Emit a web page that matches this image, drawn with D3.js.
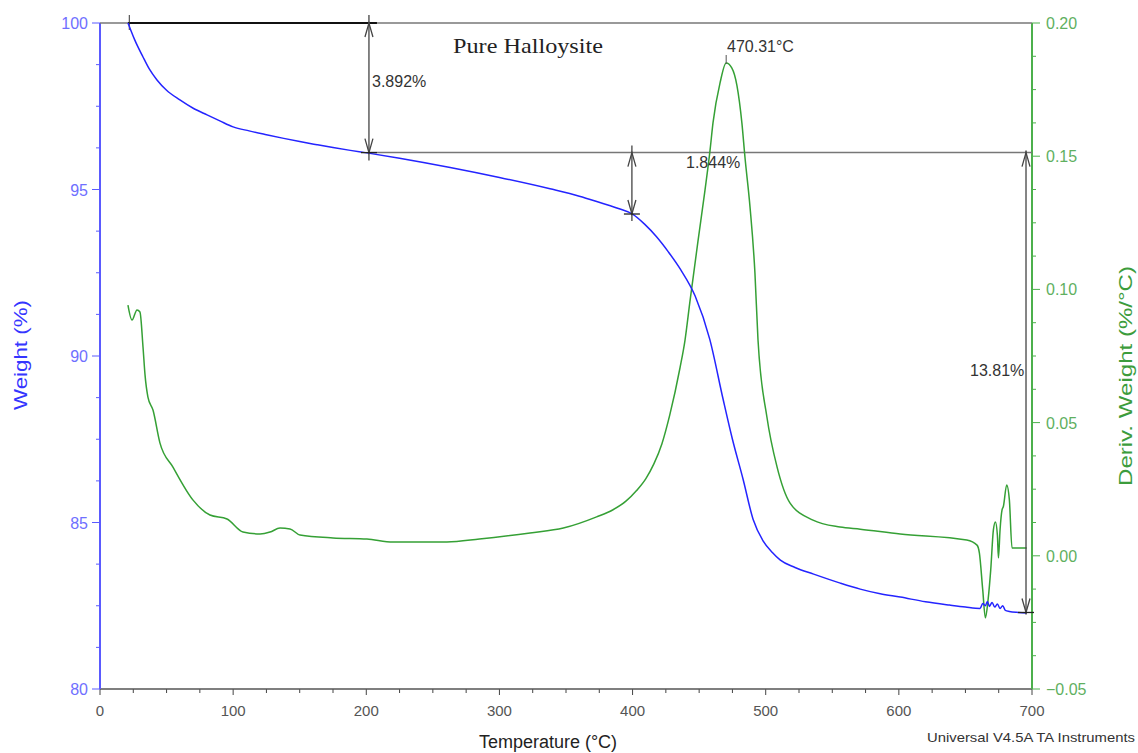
<!DOCTYPE html>
<html>
<head>
<meta charset="utf-8">
<script src="https://cdn.jsdelivr.net/npm/d3@7"></script>
<style>
  body { margin: 0; background: #fff; }
  text { font-family: "Liberation Sans", Arial, sans-serif; }
</style>
</head>
<body>
<div id="chart"></div>
<script>
// weight curve (°C, %)
const tempW = [21, 22.5, 26, 32.3, 37, 42.8, 50, 60, 70, 80.4, 90, 100, 112, 125, 138, 150, 163, 175, 188, 200.5,
  225, 263, 300, 338, 360, 376, 390, 400, 409, 418, 427, 436, 447, 458, 468, 475, 483, 490.5, 498, 505, 511, 522,
  536, 556, 571, 586, 601, 620, 638, 650, 661, 663, 665, 666.5, 668, 670, 672, 674, 676, 678, 680, 683,
  690, 696];
const weight = [100, 99.85, 99.5, 98.98, 98.62, 98.29, 97.98, 97.69, 97.44, 97.24, 97.06, 96.88, 96.76, 96.645,
  96.535, 96.44, 96.345, 96.26, 96.175, 96.10, 95.94, 95.66, 95.36, 95.02, 94.80, 94.60, 94.42, 94.26, 93.96,
  93.58, 93.12, 92.6, 91.8, 90.5, 88.7, 87.5, 86.3, 85.1, 84.45, 84.1, 83.87, 83.65, 83.45, 83.18, 83.0, 82.86,
  82.76, 82.62, 82.52, 82.46, 82.42, 82.57, 82.5, 82.63, 82.48, 82.6, 82.46, 82.55, 82.42, 82.5, 82.36,
  82.33, 82.3, 82.28];

// derivative curve (°C, %/°C)
const tempD = [21, 24, 27.8, 30, 32.3, 33.8, 36, 39.8, 45, 54.8, 69.9, 82.6, 95.4, 107.4, 120.2, 127.7,
  135.2, 142.7, 150.2, 175, 200.5, 220, 260.6, 285, 323, 348, 373, 385, 395, 403, 410, 416, 422, 428,
  435.6, 439.4, 443.1, 449.1, 454.4, 458.2, 460.4, 465.7, 470.3, 474.5, 478.4, 482.1, 484.4, 488.2, 491.9,
  494.2, 500.9, 508.5, 518.3, 535.5, 555.8, 571, 601, 651, 658.7, 660.5, 663, 665, 667, 669, 671, 672.5,
  674, 674.8, 676, 677.5, 678.5, 681, 683, 685, 696];
const deriv = [0.0941, 0.0885, 0.0923, 0.0915, 0.0784, 0.068, 0.0596, 0.0547, 0.0424, 0.0333, 0.0209, 0.0153,
  0.0138, 0.0089, 0.0082, 0.0089, 0.0104, 0.0101, 0.0078, 0.0067, 0.0063, 0.0052, 0.0052, 0.0063, 0.0086,
  0.0104, 0.0146, 0.0172, 0.0205, 0.0245, 0.029, 0.0345, 0.042, 0.053, 0.0705, 0.081, 0.0955, 0.118,
  0.1373, 0.1523, 0.1625, 0.1775, 0.1850, 0.1832, 0.1765, 0.1625, 0.1497, 0.1310, 0.1062, 0.0811, 0.0521,
  0.0334, 0.0198, 0.0134, 0.0108, 0.0100, 0.0082, 0.0059, 0.0040, 0.0010, -0.0128, -0.0233, -0.0166,
  -0.0053, 0.0097, 0.0127, 0.0078, -0.0008, 0.0097, 0.0172, 0.0185, 0.0266, 0.021, 0.0029, 0.0029];

const xTicks = [0, 100, 200, 300, 400, 500, 600, 700];
const yTicks = [80, 85, 90, 95, 100];
const y2Ticks = [-0.05, 0.00, 0.05, 0.10, 0.15, 0.20];

const W = 1138, H = 753;
const mLeft = 100, mRight = 1032, mTop = 23, mBottom = 689;

const svg = d3.select("#chart").append("svg").attr("width", W).attr("height", H);

const x = d3.scaleLinear().domain([0, 700]).range([mLeft, mRight]);
const y = d3.scaleLinear().domain([80, 100]).range([mBottom, mTop]);
const y2 = d3.scaleLinear().domain([-0.05, 0.20]).range([mBottom, mTop]);

const blueAxis = "#5a5aff", greenAxis = "#4cb04c";

// minor ticks
const xMinor = d3.range(0, 701, 25);
const yMinor = d3.range(80, 100.01, 1.25);
const y2Minor = d3.range(0, 21);

svg.append("g").selectAll("line").data(xMinor).join("line")
  .attr("x1", d => x(d)).attr("x2", d => x(d))
  .attr("y1", mBottom).attr("y2", d => mBottom + (d % 100 === 0 ? 6 : 4))
  .attr("stroke", "#444").attr("stroke-width", 1);
svg.append("g").selectAll("line").data(yMinor).join("line")
  .attr("y1", d => y(d)).attr("y2", d => y(d))
  .attr("x1", mLeft).attr("x2", d => mLeft - (d % 5 === 0 ? 8 : 4))
  .attr("stroke", blueAxis).attr("stroke-width", 1);
svg.append("g").selectAll("line").data(y2Minor).join("line")
  .attr("y1", i => y2(-0.05 + i * 0.0125)).attr("y2", i => y2(-0.05 + i * 0.0125))
  .attr("x1", mRight).attr("x2", i => mRight + (i % 4 === 0 ? 8 : 4))
  .attr("stroke", greenAxis).attr("stroke-width", 1);

// axis lines
svg.append("line").attr("x1", mLeft).attr("x2", mRight).attr("y1", mBottom).attr("y2", mBottom)
  .attr("stroke", "#555").attr("stroke-width", 1.5);
svg.append("line").attr("x1", mLeft).attr("x2", mLeft).attr("y1", mTop).attr("y2", mBottom)
  .attr("stroke", blueAxis).attr("stroke-width", 2);
svg.append("line").attr("x1", mRight).attr("x2", mRight).attr("y1", mTop).attr("y2", mBottom)
  .attr("stroke", greenAxis).attr("stroke-width", 2);

// tick labels
svg.append("g").selectAll("text").data(xTicks).join("text")
  .attr("x", d => x(d)).attr("y", 716).attr("text-anchor", "middle")
  .attr("font-size", 15).attr("fill", "#555").text(d => d);
svg.append("g").selectAll("text").data(yTicks).join("text")
  .attr("x", mLeft - 12).attr("y", d => y(d) + 6).attr("text-anchor", "end")
  .attr("font-size", 16).attr("fill", "#6f6fff").text(d => d);
svg.append("g").selectAll("text").data(y2Ticks).join("text")
  .attr("x", mRight + 14).attr("y", d => y2(d) + 6)
  .attr("font-size", 16).attr("fill", "#5fb05f").text(d => d3.format(".2f")(d));

// axis titles
svg.append("text").attr("x", 548).attr("y", 748).attr("text-anchor", "middle")
  .attr("font-size", 18).attr("fill", "#222").text("Temperature (°C)");
svg.append("text").attr("transform", "translate(27,355) rotate(-90)").attr("text-anchor", "middle")
  .attr("font-size", 18).attr("textLength", 110).attr("lengthAdjust", "spacingAndGlyphs")
  .attr("fill", "#3535ff").text("Weight (%)");
svg.append("text").attr("transform", "translate(1132,376) rotate(-90)").attr("text-anchor", "middle")
  .attr("font-size", 18).attr("textLength", 220).attr("lengthAdjust", "spacingAndGlyphs")
  .attr("fill", "#3c9c3c").text("Deriv. Weight (%/°C)");
svg.append("text").attr("x", 1135).attr("y", 742).attr("text-anchor", "end")
  .attr("font-size", 13).attr("textLength", 208).attr("lengthAdjust", "spacingAndGlyphs")
  .attr("fill", "#333").text("Universal V4.5A TA Instruments");

// reference lines
const w0 = 100, w1 = 100 - 3.892, w2 = w1 - 1.844, w3 = w1 - 13.81;
svg.append("line").attr("x1", mLeft).attr("x2", mRight).attr("y1", y(w0)).attr("y2", y(w0))
  .attr("stroke", "#777").attr("stroke-width", 1.5);
svg.append("line").attr("x1", x(21)).attr("x2", x(208)).attr("y1", y(w0)).attr("y2", y(w0))
  .attr("stroke", "#111").attr("stroke-width", 2);
svg.append("line").attr("x1", x(202)).attr("x2", mRight).attr("y1", y(w1)).attr("y2", y(w1))
  .attr("stroke", "#777").attr("stroke-width", 1.5);
svg.append("line").attr("x1", x(22)).attr("x2", x(22)).attr("y1", y(w0) - 8).attr("y2", y(w0) + 7)
  .attr("stroke", "#333").attr("stroke-width", 1);

// curves
const lineW = d3.line().x((d, i) => x(tempW[i])).y(d => y(d)).curve(d3.curveMonotoneX);
const lineD = d3.line().x((d, i) => x(tempD[i])).y(d => y2(d)).curve(d3.curveMonotoneX);
svg.append("path").attr("d", lineD(deriv)).attr("fill", "none")
  .attr("stroke", "#35a035").attr("stroke-width", 1.5);
svg.append("path").attr("d", lineW(weight)).attr("fill", "none")
  .attr("stroke", "#2424ff").attr("stroke-width", 1.5);

// step arrows
function arrow(t, a, b, ext) {
  const g = svg.append("g").attr("stroke", "#444").attr("fill", "none").attr("stroke-width", 1.3);
  const xa = x(t), ya = y(a), yb = y(b);
  g.append("line").attr("x1", xa).attr("x2", xa).attr("y1", ya - ext).attr("y2", yb + ext);
  g.append("path").attr("d", `M${xa - 4},${ya + 14}L${xa},${ya}L${xa + 4},${ya + 14}`);
  g.append("path").attr("d", `M${xa - 4},${yb - 14}L${xa},${yb}L${xa + 4},${yb - 14}`);
  g.append("line").attr("x1", xa - 8).attr("x2", xa + 8).attr("y1", yb).attr("y2", yb).attr("stroke", "#222");
}
arrow(202, w0, w1, 8);
arrow(399.5, w1, w2, 7);
arrow(695.5, w1, w3, 2);

// labels
const lab = (tx, ty, s) => svg.append("text").attr("x", tx).attr("y", ty)
  .attr("font-size", 16).attr("fill", "#333").text(s);
lab(372, 87, "3.892%");
lab(686, 168, "1.844%");
lab(970, 376, "13.81%");
lab(727, 52, "470.31°C");
svg.append("line").attr("x1", x(470.31)).attr("x2", x(470.31)).attr("y1", 55).attr("y2", 64)
  .attr("stroke", "#555");

svg.append("text").attr("x", 453).attr("y", 53).style("font-family", "'Liberation Serif', serif")
  .attr("font-size", 22).attr("textLength", 150).attr("lengthAdjust", "spacingAndGlyphs")
  .attr("fill", "#222").text("Pure Halloysite");
</script>
</body>
</html>
